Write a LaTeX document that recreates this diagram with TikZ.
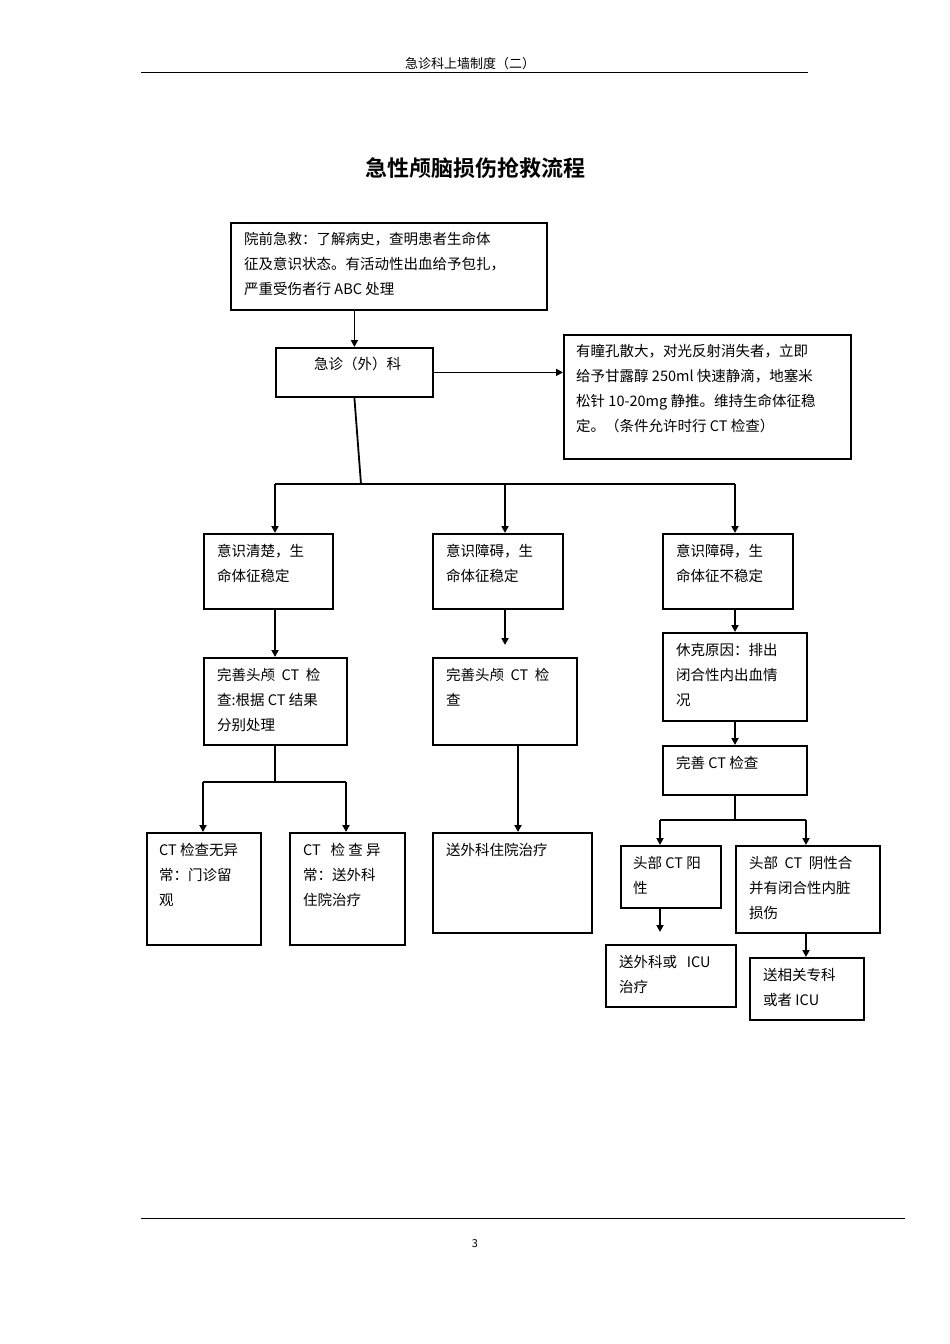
\documentclass[tikz,border=0pt]{standalone}
\usepackage{fontspec}
\setmainfont{Noto Sans CJK SC}
\newfontfamily\titlefont{Noto Sans CJK SC Bold}
\usetikzlibrary{arrows.meta}
\begin{document}
\begin{tikzpicture}[x=1pt,y=-1pt,
 bx/.style={draw,line width=1.8pt,anchor=north west,inner sep=0pt},
 tx/.style={anchor=north west,align=left,font=\fontsize{14.5}{25}\selectfont,inner sep=0pt},
 ln/.style={line width=1.8pt},
 ar/.style={line width=1.8pt,-{Triangle[length=7pt,width=7pt]}}]
\useasboundingbox[fill=white] (0,0) rectangle (950,1344);
\node[font=\fontsize{13}{13}\selectfont] (hdr) at (470,64) {急诊科上墙制度（二）};
\draw[line width=0.8pt] (141,72) coordinate (h1) -- (808,72) coordinate (h2);
\node[font=\titlefont\fontsize{22}{22}\selectfont] (title) at (475,168) {急性颅脑损伤抢救流程};
\draw[line width=0.8pt] (141,1218) coordinate (f1) -- (905,1218) coordinate (f2);
\node[font=\fontsize{11}{11}\selectfont] (pg) at (475,1244) {3};
% boxes
\node[bx,minimum width=316pt,minimum height=87pt] (b1) at (230,222) {};
\node[bx,minimum width=157pt,minimum height=49pt] (b2) at (275,347) {};
\node[bx,minimum width=287pt,minimum height=124pt] (b3) at (563,334) {};
\node[bx,minimum width=129pt,minimum height=75pt] (a1) at (203,533) {};
\node[bx,minimum width=130pt,minimum height=75pt] (m1) at (432,533) {};
\node[bx,minimum width=130pt,minimum height=75pt] (c1) at (662,533) {};
\node[bx,minimum width=143pt,minimum height=87pt] (a2) at (203,657) {};
\node[bx,minimum width=144pt,minimum height=87pt] (m2) at (432,657) {};
\node[bx,minimum width=144pt,minimum height=88pt] (c2) at (662,632) {};
\node[bx,minimum width=144pt,minimum height=49pt] (c3) at (662,745) {};
\node[bx,minimum width=114pt,minimum height=112pt] (a3) at (146,832) {};
\node[bx,minimum width=115pt,minimum height=112pt] (a4) at (289,832) {};
\node[bx,minimum width=159pt,minimum height=100pt] (m3) at (432,832) {};
\node[bx,minimum width=100pt,minimum height=62pt] (c4) at (620,845) {};
\node[bx,minimum width=144pt,minimum height=87pt] (c5) at (735,845) {};
\node[bx,minimum width=130pt,minimum height=62pt] (c6) at (605,944) {};
\node[bx,minimum width=114pt,minimum height=62pt] (c7) at (749,957) {};
% texts
\node[tx] at (244,232) {院前急救：了解病史，查明患者生命体\\征及意识状态。有活动性出血给予包扎，\\严重受伤者行 ABC 处理};
\node[tx] at (314,357) {急诊（外）科};
\node[tx] at (576,344) {有瞳孔散大，对光反射消失者，立即\\给予甘露醇 250ml 快速静滴，地塞米\\松针 10-20mg 静推。维持生命体征稳\\定。（条件允许时行 CT 检查）};
\node[tx] at (217,544) {意识清楚，生\\命体征稳定};
\node[tx] at (446,544) {意识障碍，生\\命体征稳定};
\node[tx] at (676,544) {意识障碍，生\\命体征不稳定};
\node[tx] at (217,668) {完善头颅\ \ CT\ \ 检\\查:根据 CT 结果\\分别处理};
\node[tx] at (446,668) {完善头颅\ \ CT\ \ 检\\查};
\node[tx] at (676,643) {休克原因：排出\\闭合性内出血情\\况};
\node[tx] at (676,756) {完善 CT 检查};
\node[tx] at (159,843) {CT 检查无异\\常：门诊留\\观};
\node[tx] at (303,843) {CT\ \ \ 检 查 异\\常：送外科\\住院治疗};
\node[tx] at (446,843) {送外科住院治疗};
\node[tx] at (633,856) {头部 CT 阳\\性};
\node[tx] at (749,856) {头部\ \ CT\ \ 阴性合\\并有闭合性内脏\\损伤};
\node[tx] at (619,955) {送外科或\ \ \ ICU\\治疗};
\node[tx] at (763,968) {送相关专科\\或者 ICU};
% connectors
\draw[ar] (b1.south -| b2.north) -- (b2.north);
\draw[ar] (b2.east) -- (b3.west |- b2.east);
\coordinate (j1) at (361,484);
\draw[ln] (b2.south) -- (j1);
\draw[ln] (275,484) coordinate (jl) -- (735,484) coordinate (jr);
\draw[ar] (jl) -- (a1.north -| jl);
\draw[ar] (505,484) coordinate (jm) -- (m1.north -| jm);
\draw[ar] (jr) -- (c1.north -| jr);
\draw[ar] (a1.south -| jl) -- (a2.north -| jl);
\draw[ar] (m1.south -| jm) -- (505,645) coordinate (jm2);
\draw[ar] (c1.south -| jr) -- (c2.north -| jr);
\draw[ar] (c2.south -| jr) -- (c3.north -| jr);
\draw[ln] (a2.south -| jl) -- (275,782) coordinate (ja);
\draw[ln] (203,782) coordinate (ja1) -- (346,782) coordinate (ja2);
\draw[ar] (ja1) -- (a3.north -| ja1);
\draw[ar] (ja2) -- (a4.north -| ja2);
\draw[ar] (518,744) coordinate (jb) -- (m3.north -| jb);
\draw[ln] (c3.south -| jr) -- (735,820) coordinate (jc);
\draw[ln] (660,820) coordinate (jc1) -- (806,820) coordinate (jc2);
\draw[ar] (jc1) -- (c4.north -| jc1);
\draw[ar] (jc2) -- (c5.north -| jc2);
\draw[ar] (c4.south -| jc1) -- (660,932) coordinate (jd);
\draw[ar] (c5.south -| jc2) -- (c7.north -| jc2);
\end{tikzpicture}
\end{document}
